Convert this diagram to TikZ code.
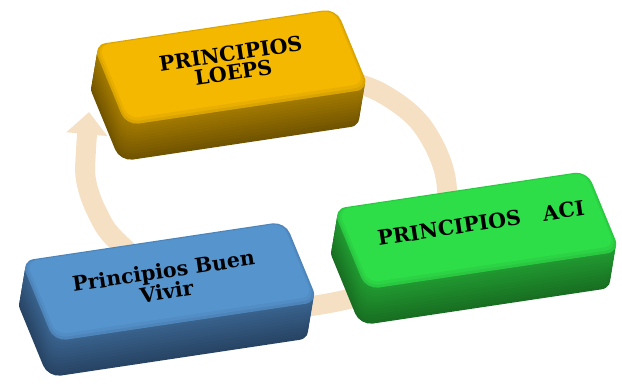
\documentclass[tikz,border=0pt]{standalone}
\usepackage{fontspec}
\newfontfamily\fuenteTecla{DejaVu Serif}
\usetikzlibrary{arrows.meta}

\definecolor{oro}{RGB}{244,184,0}
\definecolor{oroOsc}{RGB}{100,74,0}
\definecolor{verde}{RGB}{46,222,72}
\definecolor{verdeOsc}{RGB}{22,100,30}
\definecolor{azul}{RGB}{86,148,206}
\definecolor{azulOsc}{RGB}{35,60,90}
\definecolor{anilloCol}{RGB}{246,224,196}

% cara de una tecla: x0, y0, largo, fondo, margen
\newcommand\cara[5]{({#1+1.369*#5},{#2+0.777*#5})
  -- ++({0.989*(#3-2*#5)},{-0.148*(#3-2*#5)})
  -- ++({0.38*(#4-2*#5)},{0.925*(#4-2*#5)})
  -- ++({-0.989*(#3-2*#5)},{0.148*(#3-2*#5)}) -- cycle}

% tecla completa: x0, y0, largo, color, color oscuro
\newcommand\tecla[5]{%
  \foreach \s in {36,33,...,3}{%
    \pgfmathtruncatemacro\mezcla{45-\s}%
    \fill[#4!\mezcla!#5,rounded corners=11pt,shift={(-\s/6,\s)}] \cara{#1}{#2}{#3}{87}{0};
  }
  \fill[#4!82!#5,rounded corners=11pt] \cara{#1}{#2}{#3}{87}{0};
  \fill[#4!92!#5,rounded corners=10pt] \cara{#1}{#2-1}{#3}{87}{2};
  \fill[#4,rounded corners=9pt] \cara{#1}{#2-2.5}{#3}{87}{4};
}

\begin{document}
\begin{tikzpicture}[x=0.03cm,y=-0.03cm,
    texto/.style={font=\fuenteTecla\bfseries\fontsize{17.5}{16}\selectfont,
      align=center,inner sep=0pt,rotate=8.5},
    anillo/.style={draw=anilloCol,line width=17pt,
      -{Triangle[width=34pt,length=19pt]}}]
  \useasboundingbox (0,0) rectangle (622,385);
  % flecha circular de fondo
  \draw[anillo] plot[smooth,tension=0.6] coordinates {(300,72) (345,80)
    (385,95) (423,127) (446,180) (440,238) (400,280) (335,302) (260,308)
    (180,290) (118,242) (97,212) (86,180) (86,150) (89,112)};
  % teclas
  \tecla{93}{45}{246}{oro}{oroOsc}
  \tecla{333}{209}{257}{verde}{verdeOsc}
  \tecla{21}{261}{267}{azul}{azulOsc}
  \node[texto] (loeps) at (232,63) {PRINCIPIOS\\LOEPS};
  \node[texto] (aci) at (481,223) {PRINCIPIOS\hspace{1.1em}ACI};
  \node[texto] (buen) at (165,281) {Principios Buen\\Vivir};
\end{tikzpicture}
\end{document}
